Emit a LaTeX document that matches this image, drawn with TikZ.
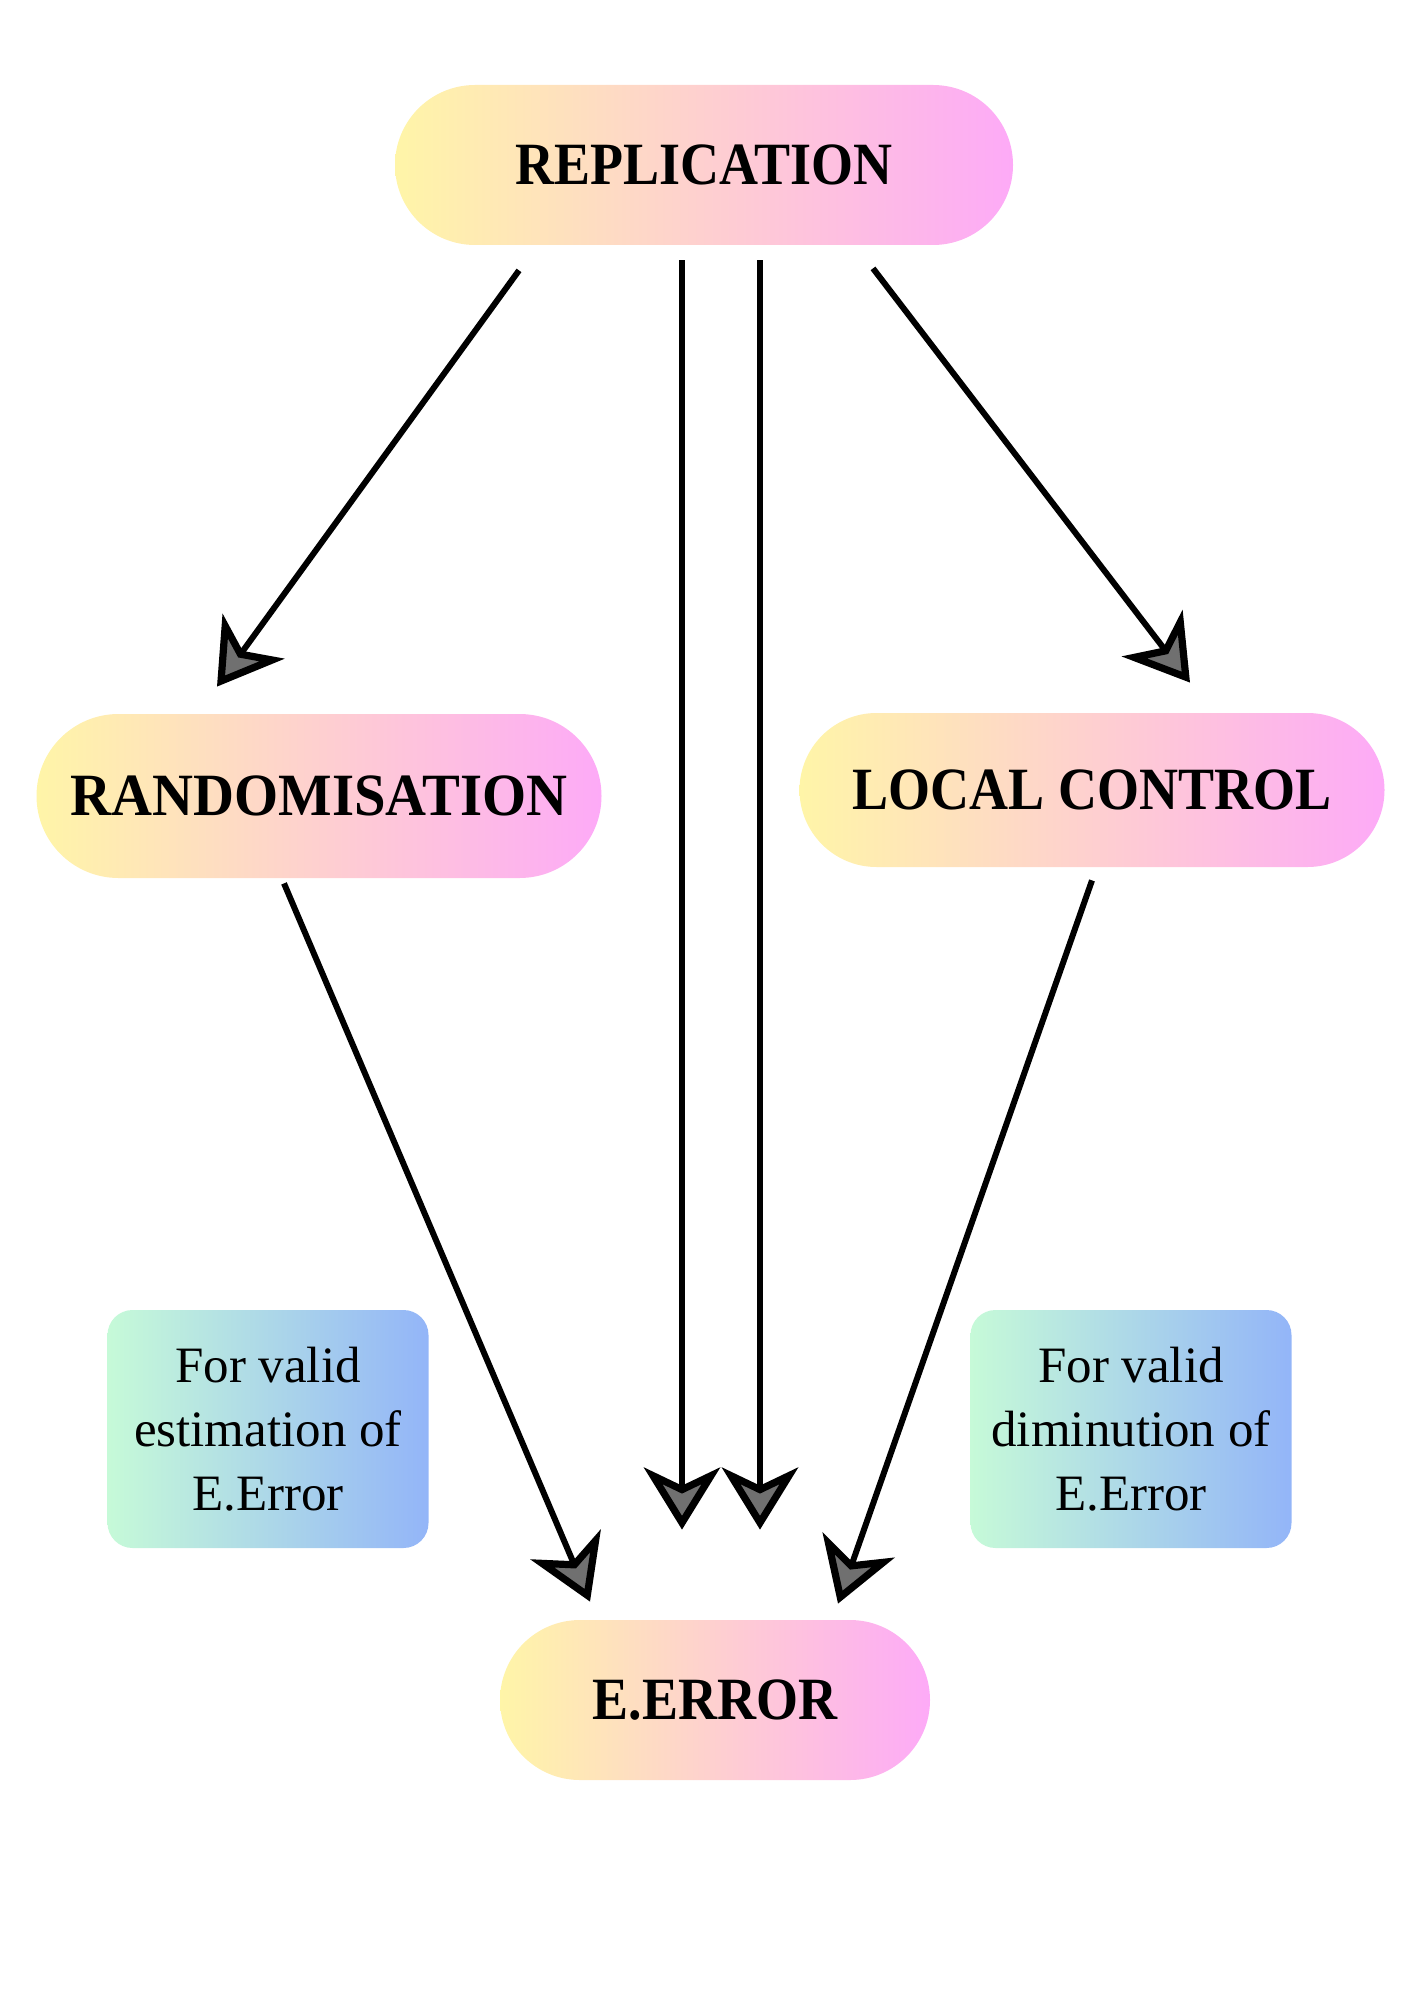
\documentclass[tikz,border=0pt]{standalone}
\usepackage{fontspec}
\setmainfont{Liberation Serif}
\newfontfamily\labelfont{Liberation Serif}[FakeStretch=0.9]
\newfontfamily\labelfontw{Liberation Serif}[FakeStretch=0.945]
\usetikzlibrary{arrows.meta,calc}
\definecolor{pillL}{HTML}{FFF5A8}
\definecolor{pillR}{HTML}{FDAAF7}
\definecolor{boxL}{HTML}{C6FAD8}
\definecolor{boxR}{HTML}{93B5F8}
\definecolor{tipgray}{HTML}{707070}
\tikzset{
 pill/.style={rectangle, rounded corners=40pt, left color=pillL, right color=pillR, draw=none,
   font=\labelfont\bfseries\fontsize{30pt}{36pt}\selectfont, inner sep=0pt},
 notebox/.style={rectangle, rounded corners=12.5pt, left color=boxL, right color=boxR, draw=none,
   minimum width=160.5pt, minimum height=119pt, align=center,
   font=\fontsize{25.5pt}{32pt}\selectfont, inner sep=0pt},
 arr/.style={line width=3pt, draw=black, -{Stealth[length=31pt,width=38pt,inset=9pt,line width=3.6pt,fill=tipgray]}}
}
\begin{document}
\begin{tikzpicture}[x=0.5pt,y=-0.5pt]
\useasboundingbox (0,0) rectangle (1414,2000);
\node[pill, minimum width=309pt, minimum height=80pt] (rep) at (704,165) {REPLICATION};
\node[pill, minimum width=282.5pt, minimum height=82pt, rounded corners=41pt,
  font=\labelfontw\bfseries\fontsize{30pt}{36pt}\selectfont] (rand) at (319,796) {RANDOMISATION};
\node[pill, minimum width=292.5pt, minimum height=77pt, rounded corners=38.5pt] (loc) at (1092,790) {LOCAL CONTROL};
\node[pill, minimum width=215pt, minimum height=80pt] (err) at (715,1700) {E.ERROR};
\node[notebox] (n1) at (268,1429) {For valid\\estimation of\\E.Error};
\node[notebox] (n2) at (1131,1429) {For valid\\diminution of\\E.Error};

\draw[arr] ($(rep.south)+(-185,25)$) -- ($(rand.north)+(-102,-27)$);
\draw[arr] ($(rep.south)+(-22,15)$) -- ($(err.north)+(-33,-90)$);
\draw[arr] ($(rep.south)+(56,15)$) -- ($(err.north)+(45,-90)$);
\draw[arr] ($(rep.south)+(169,23)$) -- ($(loc.north)+(98,-30)$);
\draw[arr] ($(rand.south)+(-35,5)$) -- ($(err.north)+(-125,-18)$);
\draw[arr] ($(loc.south)+(0,13)$) -- ($(err.north)+(123,-16)$);
\end{tikzpicture}
\end{document}
